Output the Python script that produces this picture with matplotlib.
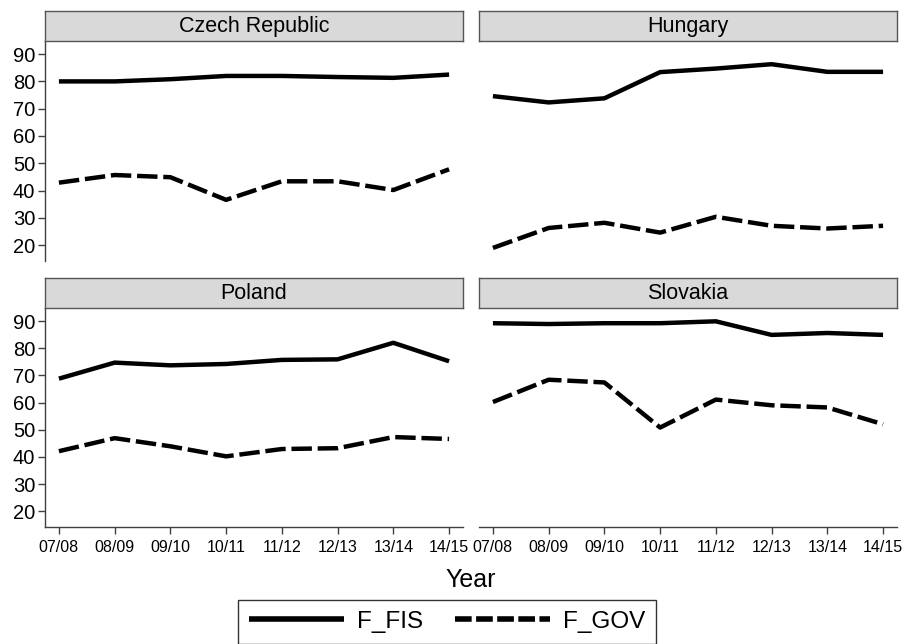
import matplotlib
matplotlib.use("Agg")
import matplotlib.pyplot as plt
from matplotlib.lines import Line2D

plt.rcParams['font.family'] = ['Liberation Sans', 'DejaVu Sans']

years = ["07/08", "08/09", "09/10", "10/11", "11/12", "12/13", "13/14", "14/15"]
countries = ["Czech Republic", "Hungary", "Poland", "Slovakia"]

czech_fis = [80.0, 80.0, 80.8, 82.0, 82.0, 81.6, 81.3, 82.5]
czech_gov = [42.9, 45.7, 44.9, 36.6, 43.4, 43.4, 40.2, 47.8]
hungary_fis = [74.6, 72.3, 73.8, 83.4, 84.7, 86.3, 83.5, 83.5]
hungary_gov = [19.0, 26.3, 28.2, 24.6, 30.4, 27.1, 26.1, 27.1]
poland_fis = [68.8, 74.7, 73.7, 74.2, 75.7, 75.9, 82.0, 75.2]
poland_gov = [42.1, 46.9, 43.9, 40.2, 42.9, 43.2, 47.3, 46.6]
slovakia_fis = [89.2, 88.9, 89.2, 89.2, 89.9, 84.9, 85.6, 84.9]
slovakia_gov = [60.2, 68.4, 67.4, 50.8, 61.1, 59.0, 58.2, 52.0]

fis = [czech_fis, hungary_fis, poland_fis, slovakia_fis]
gov = [czech_gov, hungary_gov, poland_gov, slovakia_gov]
yticks = [20, 30, 40, 50, 60, 70, 80, 90]
series_labels = ['F_FIS', 'F_GOV']

W, H = 906, 644
fig = plt.figure(figsize=(W / 100, H / 100), dpi=100)

def frac(x0, y0, x1, y1):
    return [x0 / W, 1 - y1 / H, (x1 - x0) / W, (y1 - y0) / H]

cols = [(45, 463), (479, 897)]
rows = [((11, 41), (41, 261)), ((278, 308), (308, 527))]

dash = (0, (4.6, 1.3))
spine_col = '#404040'
for i, name in enumerate(countries):
    r, c = divmod(i, 2)
    (sx0, sx1) = cols[c]
    (st, sb), (pt, pb) = rows[r]
    ax = fig.add_axes(frac(sx0, pt, sx1, pb))
    x = list(range(len(years)))
    ax.plot(x, fis[i], color='black', lw=3.2, solid_capstyle='butt')
    ax.plot(x, gov[i], color='black', lw=3.2, linestyle=dash, dash_capstyle='butt')
    ax.set_xlim(-0.25, 7.25)
    ax.set_ylim(14.2, 94.8)
    for s in ['top', 'right']:
        ax.spines[s].set_visible(False)
    ax.spines['left'].set_visible(c == 0)
    ax.spines['bottom'].set_visible(r == 1)
    for s in ['left', 'bottom']:
        ax.spines[s].set_color(spine_col)
        ax.spines[s].set_linewidth(1.0)
    ax.tick_params(colors=spine_col, length=5, width=1.0, direction='out')
    ax.tick_params(axis='y', labelsize=14.5, labelcolor='black', pad=2)
    ax.tick_params(axis='x', labelsize=11.5, labelcolor='black', pad=4)
    ax.set_yticks(yticks)
    if c == 0:
        ax.set_yticklabels([str(v) for v in yticks])
    else:
        ax.tick_params(axis='y', left=False, labelleft=False)
    ax.set_xticks(x)
    if r == 1:
        ax.set_xticklabels(years)
    else:
        ax.tick_params(axis='x', bottom=False, labelbottom=False)
    ax.set_facecolor('none')

    sax = fig.add_axes(frac(sx0, st, sx1, sb))
    sax.set_facecolor('#d9d9d9')
    sax.set_xticks([]); sax.set_yticks([])
    for s in sax.spines.values():
        s.set_color('#555555')
        s.set_linewidth(1.0)
    sax.text(0.5, 0.47, name, ha='center', va='center', fontsize=15.5, transform=sax.transAxes)

fig.text(471 / W, 1 - 580 / H, 'Year', ha='center', va='center', fontsize=18)

h1 = Line2D([], [], color='black', lw=4, solid_capstyle='butt')
h2 = Line2D([], [], color='black', lw=4, linestyle=(0, (3.0, 0.8)), dash_capstyle='butt')
leg = fig.legend([h1, h2], series_labels, loc='upper center',
                 bbox_to_anchor=(447 / W, 1 - 600 / H), ncol=2, fontsize=17.5,
                 frameon=True, fancybox=False, edgecolor='black', handlelength=3.9,
                 handletextpad=0.55, columnspacing=1.3, borderpad=0.45, borderaxespad=0)
leg.get_frame().set_linewidth(1.0)

fig.savefig('out.png', dpi=100, facecolor='white')
